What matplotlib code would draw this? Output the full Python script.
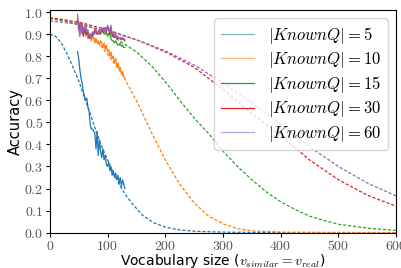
import numpy as np
import matplotlib.pyplot as plt
from matplotlib.ticker import FuncFormatter

plt.rcParams['mathtext.fontset'] = 'cm'
plt.rcParams['font.family'] = 'DejaVu Sans'

# |KnownQ| sizes
known_q = [5, 10, 15, 30, 60]
colors = ['tab:blue', 'tab:orange', 'tab:green', 'tab:red', 'tab:purple']

# fitted (dashed) curves
v_fit_5 = [0, 10, 20, 30, 40, 50, 60, 70, 80, 90, 100, 110, 120, 130, 140, 150,
           160, 180, 200, 225, 250, 300, 400, 600]
acc_fit_5 = [0.90, 0.89, 0.86, 0.81, 0.75, 0.69, 0.61, 0.54, 0.46, 0.39, 0.33,
             0.27, 0.22, 0.175, 0.14, 0.11, 0.08, 0.045, 0.025, 0.012, 0.006,
             0.002, 0.0, 0.0]

v_fit_10 = [0, 25, 50, 75, 100, 125, 150, 175, 200, 225, 250, 275, 300, 325,
            350, 400, 600]
acc_fit_10 = [0.975, 0.965, 0.94, 0.89, 0.81, 0.72, 0.60, 0.46, 0.33, 0.22,
              0.135, 0.075, 0.04, 0.018, 0.008, 0.002, 0.0]

v_fit_15 = [0, 50, 100, 150, 175, 200, 225, 250, 275, 300, 325, 350, 375, 400,
            425, 450, 475, 500, 550, 600]
acc_fit_15 = [0.97, 0.95, 0.905, 0.82, 0.76, 0.685, 0.60, 0.52, 0.45, 0.37,
              0.30, 0.24, 0.185, 0.14, 0.105, 0.075, 0.055, 0.038, 0.02, 0.01]

v_fit_30 = [0, 50, 100, 150, 200, 250, 300, 350, 400, 450, 500, 550, 600]
acc_fit_30 = [0.975, 0.955, 0.92, 0.875, 0.82, 0.75, 0.65, 0.54, 0.44, 0.33,
              0.24, 0.17, 0.12]

v_fit_60 = [0, 50, 100, 150, 200, 250, 300, 350, 400, 450, 500, 550, 600]
acc_fit_60 = [0.96, 0.945, 0.915, 0.875, 0.825, 0.76, 0.68, 0.59, 0.49, 0.39,
              0.30, 0.225, 0.167]

# measured (solid) curves
v_meas = [48, 50, 52, 54, 56, 58, 60, 62, 64, 66, 68, 70, 72, 74, 76, 78, 80,
          82, 84, 86, 88, 90, 92, 94, 96, 98, 100, 102, 104, 106, 108, 110,
          112, 114, 116, 118, 120, 122, 124, 126, 128, 130]
acc_meas_5 = [0.82, 0.79, 0.74, 0.70, 0.68, 0.64, 0.62, 0.60, 0.61, 0.57, 0.55,
              0.49, 0.47, 0.47, 0.46, 0.45, 0.38, 0.46, 0.35, 0.42, 0.37, 0.34,
              0.38, 0.33, 0.35, 0.31, 0.30, 0.32, 0.28, 0.30, 0.26, 0.28, 0.25,
              0.27, 0.24, 0.26, 0.22, 0.25, 0.21, 0.24, 0.22, 0.20]
acc_meas_10 = [0.96, 0.95, 0.92, 0.94, 0.90, 0.93, 0.92, 0.89, 0.90, 0.88, 0.90,
               0.89, 0.87, 0.89, 0.88, 0.86, 0.88, 0.86, 0.87, 0.85, 0.87, 0.86,
               0.84, 0.86, 0.83, 0.85, 0.82, 0.83, 0.80, 0.82, 0.79, 0.80, 0.77,
               0.79, 0.75, 0.77, 0.74, 0.75, 0.72, 0.73, 0.71, 0.70]
acc_meas_15 = [0.96, 0.95, 0.93, 0.94, 0.93, 0.91, 0.92, 0.90, 0.91, 0.90, 0.89,
               0.89, 0.90, 0.89, 0.90, 0.91, 0.91, 0.90, 0.91, 0.90, 0.91, 0.92,
               0.91, 0.90, 0.90, 0.91, 0.89, 0.90, 0.90, 0.88, 0.87, 0.87, 0.86,
               0.87, 0.86, 0.85, 0.85, 0.86, 0.845, 0.85, 0.84, 0.84]
acc_meas_30 = [0.97, 0.92, 0.94, 0.91, 0.95, 0.89, 0.93, 0.92, 0.90, 0.91, 0.88,
               0.90, 0.89, 0.91, 0.90, 0.92, 0.91, 0.90, 0.91, 0.92, 0.90, 0.92,
               0.91, 0.93, 0.92, 0.91, 0.93, 0.92, 0.90, 0.92, 0.89, 0.90, 0.885,
               0.89, 0.88, 0.885, 0.88, 0.88, 0.875, 0.88, 0.875, 0.87]
acc_meas_60 = [0.99, 0.93, 0.89, 0.95, 0.90, 0.93, 0.92, 0.95, 0.91, 0.92, 0.89,
               0.90, 0.88, 0.90, 0.91, 0.90, 0.92, 0.91, 0.90, 0.92, 0.91, 0.93,
               0.92, 0.91, 0.93, 0.92, 0.94, 0.93, 0.91, 0.94, 0.90, 0.91, 0.89,
               0.90, 0.89, 0.89, 0.88, 0.885, 0.88, 0.885, 0.88, 0.875]

fits = [(v_fit_5, acc_fit_5), (v_fit_10, acc_fit_10), (v_fit_15, acc_fit_15),
        (v_fit_30, acc_fit_30), (v_fit_60, acc_fit_60)]
meas = [acc_meas_5, acc_meas_10, acc_meas_15, acc_meas_30, acc_meas_60]

fig = plt.figure(figsize=(4.02, 2.68), dpi=100)
ax = fig.add_axes([0.124, 0.132, 0.861, 0.831])

xs = np.linspace(0, 600, 601)
for k, c, (vf, af), am in zip(known_q, colors, fits, meas):
    ax.plot(v_meas, am, color=c, lw=0.9, label=r'$|KnownQ| = %d$' % k)
    ax.plot(xs, np.interp(xs, vf, af), color=c, lw=0.9, ls=(0, (2.5, 1.5)))

ax.set_xlim(0, 600)
ax.set_ylim(0, 1.01)
ax.set_xticks([0, 100, 200, 300, 400, 500, 600])
ax.set_yticks(np.arange(0, 1.01, 0.1))
ax.xaxis.set_major_formatter(FuncFormatter(lambda x, p: r'$%d$' % x))
ax.yaxis.set_major_formatter(FuncFormatter(lambda y, p: r'$%.1f$' % y))
ax.tick_params(labelsize=10, labelcolor='#555555', length=3, pad=1.5)
ax.set_xlabel(r'Vocabulary size ($v_{similar} = v_{real}$)', fontsize=10, labelpad=-0.5)
ax.set_ylabel('Accuracy', fontsize=10.5, labelpad=1)

leg = ax.legend(loc='upper right', fontsize=12, handlelength=2.0,
                labelspacing=0.25)
for h, a in zip(leg.get_lines(), [0.55, 0.55, 1.0, 1.0, 0.6]):
    h.set_alpha(a)

fig.savefig('out.png', dpi=100)
